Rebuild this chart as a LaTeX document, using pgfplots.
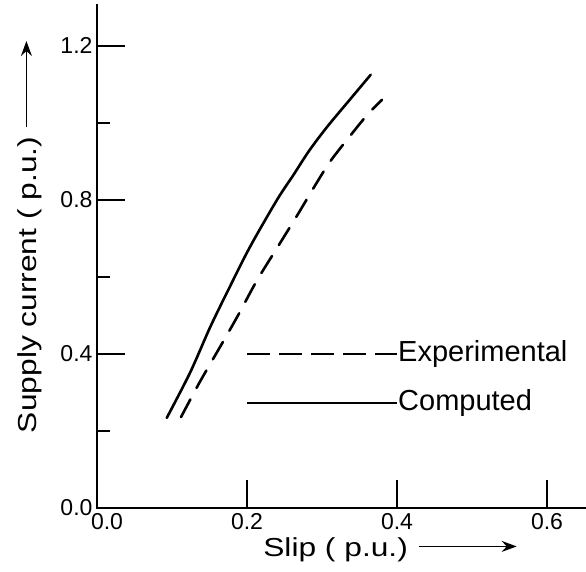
\documentclass[border=0pt]{standalone}
\usepackage{fontspec}
\setmainfont{Liberation Sans}
\newfontfamily\labelfont[FakeStretch=1.22]{Liberation Sans}
\usepackage{pgfplots}
\pgfplotsset{compat=1.18}
\usetikzlibrary{arrows.meta}

% Supply current versus slip: computed and experimental curves
\pgfplotstableread{
s      i
0.093  0.234
0.124  0.351
0.151  0.470
0.177  0.574
0.204  0.678
0.240  0.800
0.262  0.865
0.283  0.928
0.307  0.990
0.337  1.060
0.365  1.125
}\computed

\pgfplotstableread{
s      i
0.112  0.236
0.137  0.327
0.164  0.418
0.188  0.500
0.213  0.590
0.240  0.675
0.267  0.760
0.290  0.835
0.311  0.900
0.337  0.965
0.360  1.020
0.380  1.060
}\experimental

\newcommand{\longarrow}[1]{\tikz[baseline=-0.75ex]\draw[line width=1.6pt,-{Stealth[length=15pt,width=11pt,inset=5pt]}] (0,0)--(#1,0);}

\begin{document}
\begin{tikzpicture}
\begin{axis}[
  name=ax,
  scale only axis,
  width=489pt, height=503pt,
  xmin=0, xmax=0.652,
  ymin=0, ymax=1.306,
  axis x line*=bottom,
  axis y line*=left,
  every outer x axis line/.append style={line width=2.8pt, black, line cap=rect},
  every outer y axis line/.append style={line width=2.8pt, black, line cap=rect},
  xtick={0,0.2,0.4,0.6},
  xticklabels={\hspace{20pt}0.0, 0.2, 0.4, 0.6},
  ytick={0,0.4,0.8,1.2},
  minor ytick={0.2,0.6,1.0},
  tick align=inside,
  major tick length=28pt,
  minor tick length=13pt,
  xtick style={line width=2.6pt, black},
  ytick style={line width=2.6pt, black},
  minor tick style={line width=2.6pt, black},
  /pgf/number format/assume math mode=true,
  /pgf/number format/fixed,
  /pgf/number format/fixed zerofill,
  /pgf/number format/precision=1,
  tick label style={font=\fontsize{23}{26}\selectfont},
  xticklabel style={yshift=-2pt},
  yticklabel style={xshift=-1pt},
  xlabel={Slip ( p.u.)\hspace{10pt}\longarrow{98pt}},
  ylabel={Supply current ( p.u.)\hspace{9pt}\longarrow{86pt}},
  every axis x label/.style={at={(rel axis cs:0.6,0)}, anchor=center, yshift=-42pt,
    font=\labelfont\fontsize{26}{29}\selectfont},
  every axis y label/.style={at={(rel axis cs:0,0.5395)}, anchor=center, rotate=90, yshift=67pt,
    font=\labelfont\fontsize{26}{29}\selectfont},
  clip=false,
]
\addplot[black, line width=2.6pt, line cap=round, smooth] table[x=s, y=i] {\computed};
\addplot[black, line width=2.6pt, line cap=round, smooth, dash pattern=on 20pt off 13pt] table[x=s, y=i] {\experimental};

% key drawn inside the plot area
\addplot[black, line width=2.2pt, dash pattern=on 23pt off 9pt] coordinates {(0.2,0.4) (0.4,0.4)};
\addplot[black, line width=2.2pt] coordinates {(0.2,0.273) (0.4,0.273)};
\node[anchor=west, inner sep=1pt, font=\fontsize{29}{32}\selectfont] at (axis cs:0.4,0.4) {Experimental};
\node[anchor=west, inner sep=1pt, font=\fontsize{29}{32}\selectfont] at (axis cs:0.4,0.273) {Computed};
\end{axis}
\pgfresetboundingbox
\path (ax.south west) ++(-97pt,-63pt) rectangle ([yshift=5pt]ax.north east);
\end{tikzpicture}
\end{document}
